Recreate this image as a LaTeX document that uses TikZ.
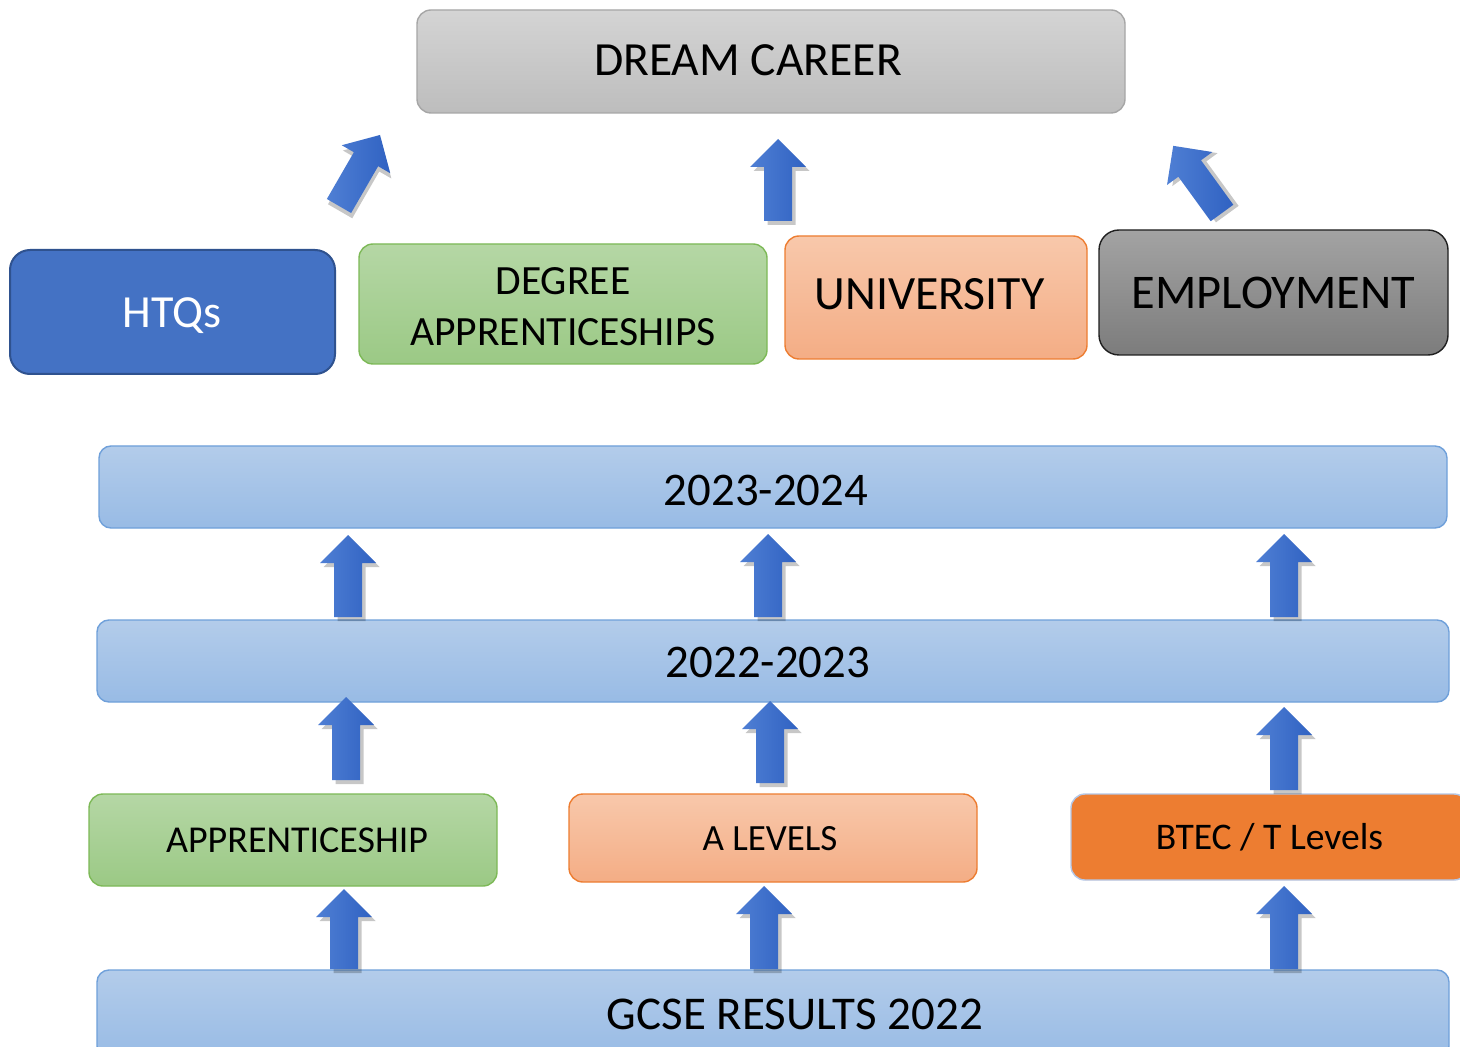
\documentclass[tikz,border=0pt]{standalone}
\usepackage{fontspec}
\setmainfont{Carlito}
\definecolor{grayT}{HTML}{D4D4D4}
\definecolor{grayB}{HTML}{BDBDBD}
\definecolor{grayD}{HTML}{A6A6A6}
\definecolor{htqF}{HTML}{4472C4}
\definecolor{htqD}{HTML}{2F528F}
\definecolor{grnT}{HTML}{B5D7A5}
\definecolor{grnB}{HTML}{9BC985}
\definecolor{grnD}{HTML}{7DB957}
\definecolor{orT}{HTML}{F8C8AB}
\definecolor{orB}{HTML}{F4AD85}
\definecolor{orD}{HTML}{ED7D31}
\definecolor{emT}{HTML}{A3A3A3}
\definecolor{emB}{HTML}{7C7C7C}
\definecolor{emD}{HTML}{1F1F1F}
\definecolor{blT}{HTML}{B3CCEA}
\definecolor{blB}{HTML}{98BBE5}
\definecolor{blD}{HTML}{6FA0DA}
\definecolor{btF}{HTML}{ED7D31}
\definecolor{btD}{HTML}{B4C7E7}
\definecolor{arL}{HTML}{4F7FD4}
\definecolor{arR}{HTML}{3062C2}
\begin{document}
\begin{tikzpicture}[x=0.5pt,y=0.5pt,
  box/.style={draw, line width=0.7pt, inner sep=0pt, align=center, text=black},
  txt/.style={inner sep=0pt, align=center},
  graybox/.style={box, top color=grayT, bottom color=grayB, draw=grayD, rounded corners=7pt},
  htqbox/.style={box, fill=htqF, draw=htqD, line width=1pt, rounded corners=10pt, text=white},
  grnbox/.style={box, top color=grnT, bottom color=grnB, draw=grnD, rounded corners=7pt},
  orbox/.style={box, top color=orT, bottom color=orB, draw=orD, rounded corners=7pt},
  embox/.style={box, top color=emT, bottom color=emB, draw=emD, rounded corners=10pt},
  blbox/.style={box, top color=blT, bottom color=blB, draw=blD, rounded corners=6pt},
  btbox/.style={box, fill=btF, draw=btD, rounded corners=7pt},
  barrow/.pic={
    \path[fill=black, opacity=0.22, xshift=1.8pt, yshift=-2pt]
      (-14,0) -- (-14,#1-28) -- (-28,#1-28) -- (0,#1) -- (28,#1-28) -- (14,#1-28) -- (14,0) -- cycle;
    \path[left color=arL, right color=arR]
      (-14,0) -- (-14,#1-28) -- (-28,#1-28) -- (0,#1) -- (28,#1-28) -- (14,#1-28) -- (14,0) -- cycle;
  }
]
\clip (0,0) rectangle (1460,-1047);
\fill[white] (0,0) rectangle (1460,-1047);

% top level
\node[graybox, minimum width=354pt, minimum height=51.5pt] (dream) at (771,-61.5) {};
\node[txt, font=\fontsize{23.8}{28}\selectfont] (dreamtxt) at (748,-60) {DREAM CAREER};

% second level
\node[htqbox, minimum width=162.5pt, minimum height=62pt] (htq) at (172.5,-312) {};
\node[txt, text=white, font=\fontsize{23}{28}\selectfont] (htqtxt) at (172,-316) {HTQs};
\node[grnbox, minimum width=204pt, minimum height=60pt] (degree) at (563,-304) {};
\node[txt, font=\fontsize{20.8}{25.5}\selectfont] (degreetxt) at (563,-307) {DEGREE\\APPRENTICESHIPS};
\node[orbox, minimum width=151pt, minimum height=61.5pt] (univ) at (936,-297.5) {};
\node[txt, font=\fontsize{23.9}{28}\selectfont] (univtxt) at (929.5,-294) {UNIVERSITY};
\node[embox, minimum width=174.5pt, minimum height=62.5pt, font=\fontsize{24.2}{28}\selectfont] (employ) at (1273.5,-292.5) {EMPLOYMENT};

% year bars
\node[blbox, minimum width=674pt, minimum height=41pt] (y2324) at (773,-487) {};
\node[txt, font=\fontsize{23.4}{28}\selectfont] (y2324txt) at (766,-490) {2023-2024};
\node[blbox, minimum width=676pt, minimum height=41pt] (y2223) at (773,-661) {};
\node[txt, font=\fontsize{23.4}{28}\selectfont] (y2223txt) at (768,-662) {2022-2023};

% level boxes
\node[grnbox, minimum width=204pt, minimum height=46pt] (appr) at (293,-840) {};
\node[txt, font=\fontsize{19}{23}\selectfont] (apprtxt) at (297,-840) {APPRENTICESHIP};
\node[orbox, minimum width=204pt, minimum height=44pt] (alev) at (773,-838) {};
\node[txt, font=\fontsize{18.5}{23}\selectfont] (alevtxt) at (770,-839) {A LEVELS};
\node[btbox, minimum width=198.5pt, minimum height=43pt, font=\fontsize{18.8}{23}\selectfont] (btec) at (1269.5,-837) {BTEC / T Levels};

% GCSE bar
\node[blbox, minimum width=676pt, minimum height=44pt] (gcse) at (773,-1014) {};
\node[txt, font=\fontsize{23.5}{28}\selectfont] (gcsetxt) at (795,-1014) {GCSE RESULTS 2022};

% arrows to dream career
\pic[rotate=-30] (aL) at (339,-206) {barrow=82};
\pic (aM) at (778,-221) {barrow=82};
\pic[rotate=36] (aR) at (1222,-213) {barrow=83};

% 2022 -> 2023
\pic (b1) at (348,-617) {barrow=82};
\pic (b2) at (768,-617) {barrow=83};
\pic (b3) at (1284,-617) {barrow=83};

% levels -> 2022
\pic (c1) at (346,-780) {barrow=83};
\pic (c2) at (770,-783) {barrow=82};
\pic (c3) at (1284,-790) {barrow=83};

% GCSE -> levels
\pic (d1) at (344,-969) {barrow=80};
\pic (d2) at (764,-969) {barrow=83};
\pic (d3) at (1284,-969) {barrow=83};
\end{tikzpicture}
\end{document}
